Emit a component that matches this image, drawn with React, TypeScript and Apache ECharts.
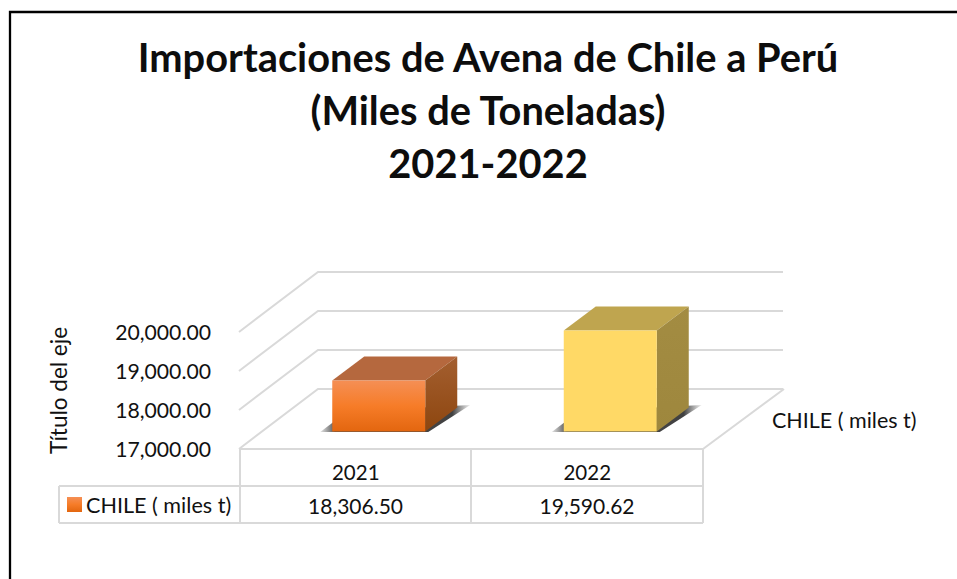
import React, { useEffect, useRef } from "react";
import * as echarts from "echarts";

const titleLines = ["Importaciones de Avena de Chile a Perú", "(Miles de Toneladas)", "2021-2022"];
const categories = ["2021", "2022"];
const seriesName = "CHILE ( miles t)";
const values = [18306.5, 19590.62];
const yTicks = [17000, 18000, 19000, 20000];
const yAxisName = "Título del eje";

const FONT = "Lato, Carlito, sans-serif";
const GRID = "#d9d9d9";
const TEXT = "#111111";

const faces = [
  { front: ["#f58f55", "#f67c28", "#e3660f"], top: "#b5683e", side: ["#a45f30", "#8d460f"] },
  { front: ["#ffd966", "#ffd966", "#ffd966"], top: "#bfa54f", side: ["#a38c42", "#9e873d"] },
];

const vGrad = (stops: string[]) => ({
  type: "linear", x: 0, y: 0, x2: 0, y2: 1,
  colorStops: stops.map((c, i) => ({ offset: i / (stops.length - 1), color: c })),
});

const shadowGrad = {
  type: "linear", x: 0, y: 0, x2: 1, y2: 0,
  colorStops: [
    { offset: 0, color: "rgba(70,70,70,0.15)" },
    { offset: 0.1, color: "rgba(60,60,60,0.9)" },
    { offset: 0.88, color: "rgba(55,55,55,0.95)" },
    { offset: 1, color: "rgba(90,90,90,0.1)" },
  ],
};

const fmt = (v: number) =>
  v.toLocaleString("en-US", { minimumFractionDigits: 2, maximumFractionDigits: 2 });

export default function App() {
  const ref = useRef<HTMLDivElement>(null);
  useEffect(() => {
    const chart = echarts.init(ref.current!, undefined, { renderer: "svg" });
    const t = (text: string, x: number, y: number, extra: any = {}) => ({
      type: "text", x, y, silent: true,
      style: { text, fill: TEXT, font: `21px ${FONT}`, textAlign: "center", textVerticalAlign: "middle", ...extra },
    });
    const ln = (x1: number, y1: number, x2: number, y2: number) => ({
      type: "line", silent: true,
      shape: { x1, y1, x2, y2 },
      style: { stroke: GRID, lineWidth: 2 },
    });
    chart.setOption({
      animation: false,
      backgroundColor: "#ffffff",
      title: {
        text: titleLines.join("\n"),
        left: 483, top: 25, textAlign: "center",
        textStyle: { fontFamily: FONT, fontWeight: "bold", fontSize: 39.8, lineHeight: 53, color: "#0d0d0d" },
      },
      grid: { left: 240, right: 254, top: 332, bottom: 130 },
      xAxis: {
        type: "category", data: categories,
        axisLine: { show: false }, axisTick: { show: false },
        axisLabel: { show: true, margin: 12, color: TEXT, fontFamily: FONT, fontSize: 20.5 },
      },
      yAxis: {
        type: "value", min: 17000, max: 20000, interval: 1000,
        name: yAxisName, nameLocation: "middle", nameGap: 170, nameRotate: 90,
        nameTextStyle: { color: TEXT, fontFamily: FONT, fontSize: 22.5 },
        axisLine: { show: false }, axisTick: { show: false }, splitLine: { show: false },
        axisLabel: { margin: 29, color: TEXT, fontFamily: FONT, fontSize: 21.2, formatter: (v: number) => fmt(v) },
      },
      series: [
        {
          type: "custom", z: 1, silent: true,
          data: yTicks.map((v) => [0, v]),
          renderItem: (params: any, api: any) => {
            const cs = params.coordSys;
            const y = api.coord([0, api.value(1)])[1];
            const x0 = cs.x - 1, dx = 79, dy = -60, xEnd = cs.x + cs.width + dx + 1;
            return {
              type: "polyline",
              shape: { points: [[x0, y], [x0 + dx, y + dy], [xEnd, y + dy]] },
              style: { fill: "none", stroke: GRID, lineWidth: 2 },
            };
          },
        },
        {
          type: "custom", z: 3, silent: true, name: seriesName,
          data: values.map((v, i) => [i, v]),
          renderItem: (_p: any, api: any) => {
            const i = api.value(0);
            const [cx, yv] = api.coord([i, api.value(1)]);
            const yb0 = api.coord([i, yTicks[0]])[1];
            const offX = 23, offY = -17.5, w = 93, dx = 32, dy = -24;
            const x0 = cx + offX - w / 2, x1 = x0 + w;
            const top = yv + offY, yb = yb0 + offY;
            const f = faces[i];
            return {
              type: "group",
              children: [
                {
                  type: "polygon",
                  shape: { points: [[x0 - 12, yb + 0.5], [x0 + 15, yb - 20], [x1 + 45, yb - 26.5], [x1 + 3, yb + 0.5]] },
                  style: { fill: shadowGrad },
                },
                { type: "polygon", shape: { points: [[x0, top], [x0 + dx, top + dy], [x1 + dx, top + dy], [x1, top]] }, style: { fill: f.top } },
                { type: "polygon", shape: { points: [[x1, top], [x1 + dx, top + dy], [x1 + dx, yb + dy], [x1, yb]] }, style: { fill: vGrad(f.side) } },
                { type: "rect", shape: { x: x0, y: top, width: w, height: yb - top }, style: { fill: vGrad(f.front) } },
              ],
            };
          },
        },
      ],
      graphic: [
        { type: "polyline", silent: true, shape: { points: [[10, 579], [10, 12], [957, 12]] }, style: { fill: "none", stroke: "#000", lineWidth: 2.3 } },
        ln(240, 449, 703, 449),
        ln(703, 449, 784, 389),
        ln(240, 449, 240, 523),
        ln(471, 449, 471, 523),
        ln(703, 449, 703, 523),
        ln(59, 486, 703, 486),
        ln(59, 523, 703, 523),
        ln(59, 486, 59, 523),
        {
          type: "rect", silent: true,
          shape: { x: 67, y: 497, width: 15, height: 15 },
          style: { fill: vGrad(faces[0].front) },
        },
        t(seriesName, 86, 505, { textAlign: "left", font: `21.6px ${FONT}` }),
        ...values.map((v, i) => t(fmt(v), i === 0 ? 355.5 : 587, 505)),
        t(seriesName, 772, 420, { textAlign: "left", font: `21.5px ${FONT}` }),
      ],
    });
    return () => chart.dispose();
  }, []);
  return <div ref={ref} style={{ position: "absolute", left: 0, top: 0, width: 957, height: 579 }} />;
}
